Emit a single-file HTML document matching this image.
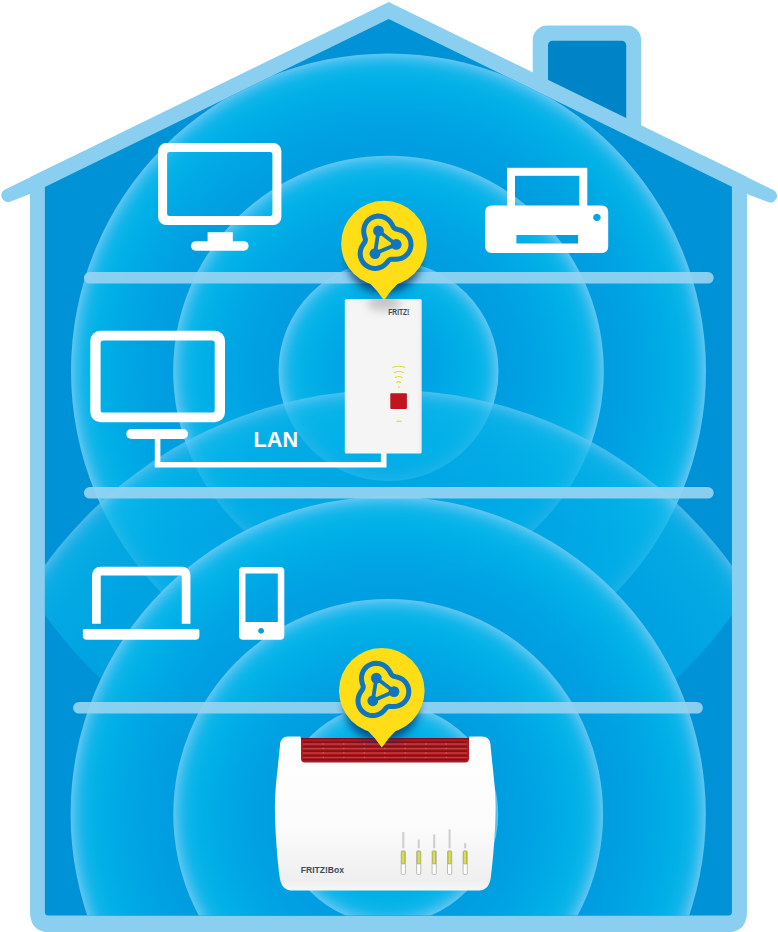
<!DOCTYPE html><html><head><meta charset="utf-8"><title>Mesh</title><style>html,body{margin:0;padding:0;background:#fff}body{width:778px;height:932px;overflow:hidden;font-family:"Liberation Sans",sans-serif}svg{display:block}</style></head><body><svg width="778" height="932" viewBox="0 0 778 932">
<defs><radialGradient id="rp1" gradientUnits="userSpaceOnUse" cx="388.5" cy="371.0" r="317.5"><stop offset="0.0000" stop-color="rgb(0,157,223)" stop-opacity="0.95"/><stop offset="0.6756" stop-color="rgb(0,158,224)" stop-opacity="0.95"/><stop offset="0.7323" stop-color="rgb(0,160,226)" stop-opacity="0.95"/><stop offset="0.8110" stop-color="rgb(0,166,228)" stop-opacity="0.95"/><stop offset="0.8740" stop-color="rgb(0,173,230)" stop-opacity="0.95"/><stop offset="0.9181" stop-color="rgb(2,178,232)" stop-opacity="0.95"/><stop offset="0.9433" stop-color="rgb(9,181,233)" stop-opacity="0.95"/><stop offset="0.9591" stop-color="rgb(20,183,235)" stop-opacity="0.95"/><stop offset="0.9717" stop-color="rgb(38,187,237)" stop-opacity="0.95"/><stop offset="0.9843" stop-color="rgb(62,192,239)" stop-opacity="0.95"/><stop offset="0.9937" stop-color="rgb(86,197,242)" stop-opacity="0.95"/><stop offset="1.0000" stop-color="rgb(98,200,243)" stop-opacity="0.95"/></radialGradient><radialGradient id="rp2" gradientUnits="userSpaceOnUse" cx="388.5" cy="371.0" r="215.3"><stop offset="0.0000" stop-color="rgb(0,157,223)" stop-opacity="0.95"/><stop offset="0.5216" stop-color="rgb(0,158,224)" stop-opacity="0.95"/><stop offset="0.6052" stop-color="rgb(0,160,226)" stop-opacity="0.95"/><stop offset="0.7213" stop-color="rgb(0,166,228)" stop-opacity="0.95"/><stop offset="0.8142" stop-color="rgb(0,173,230)" stop-opacity="0.95"/><stop offset="0.8792" stop-color="rgb(2,178,232)" stop-opacity="0.95"/><stop offset="0.9164" stop-color="rgb(9,181,233)" stop-opacity="0.95"/><stop offset="0.9396" stop-color="rgb(20,183,235)" stop-opacity="0.95"/><stop offset="0.9582" stop-color="rgb(38,187,237)" stop-opacity="0.95"/><stop offset="0.9768" stop-color="rgb(62,192,239)" stop-opacity="0.95"/><stop offset="0.9907" stop-color="rgb(86,197,242)" stop-opacity="0.95"/><stop offset="1.0000" stop-color="rgb(98,200,243)" stop-opacity="0.95"/></radialGradient><radialGradient id="rp3" gradientUnits="userSpaceOnUse" cx="388.5" cy="371.0" r="110.0"><stop offset="0.0000" stop-color="rgb(0,158,224)" stop-opacity="0.95"/><stop offset="0.0636" stop-color="rgb(0,158,224)" stop-opacity="0.95"/><stop offset="0.2273" stop-color="rgb(0,160,226)" stop-opacity="0.95"/><stop offset="0.4545" stop-color="rgb(0,166,228)" stop-opacity="0.95"/><stop offset="0.6364" stop-color="rgb(0,173,230)" stop-opacity="0.95"/><stop offset="0.7636" stop-color="rgb(2,178,232)" stop-opacity="0.95"/><stop offset="0.8364" stop-color="rgb(9,181,233)" stop-opacity="0.95"/><stop offset="0.8818" stop-color="rgb(20,183,235)" stop-opacity="0.95"/><stop offset="0.9182" stop-color="rgb(38,187,237)" stop-opacity="0.95"/><stop offset="0.9545" stop-color="rgb(62,192,239)" stop-opacity="0.95"/><stop offset="0.9818" stop-color="rgb(86,197,242)" stop-opacity="0.95"/><stop offset="1.0000" stop-color="rgb(98,200,243)" stop-opacity="0.95"/></radialGradient><radialGradient id="rt0" gradientUnits="userSpaceOnUse" cx="388.2" cy="814.0" r="424.0"><stop offset="0.0000" stop-color="rgb(0,168,229)" stop-opacity="0.72"/><stop offset="0.7406" stop-color="rgb(0,168,229)" stop-opacity="0.72"/><stop offset="0.7995" stop-color="rgb(0,170,230)" stop-opacity="0.72"/><stop offset="0.8585" stop-color="rgb(2,174,231)" stop-opacity="0.72"/><stop offset="0.9057" stop-color="rgb(4,177,232)" stop-opacity="0.72"/><stop offset="0.9387" stop-color="rgb(8,180,233)" stop-opacity="0.72"/><stop offset="0.9575" stop-color="rgb(12,182,234)" stop-opacity="0.72"/><stop offset="0.9693" stop-color="rgb(22,184,235)" stop-opacity="0.72"/><stop offset="0.9788" stop-color="rgb(38,187,237)" stop-opacity="0.72"/><stop offset="0.9882" stop-color="rgb(62,192,239)" stop-opacity="0.72"/><stop offset="0.9953" stop-color="rgb(86,197,242)" stop-opacity="0.72"/><stop offset="1.0000" stop-color="rgb(98,200,243)" stop-opacity="0.72"/></radialGradient><clipPath id="rpclip420"><circle cx="388.5" cy="371.0" r="421.3"/></clipPath><radialGradient id="rt1" gradientUnits="userSpaceOnUse" cx="388.2" cy="814.0" r="317.6"><stop offset="0.0000" stop-color="rgb(0,157,223)" stop-opacity="0.95"/><stop offset="0.6757" stop-color="rgb(0,158,224)" stop-opacity="0.95"/><stop offset="0.7324" stop-color="rgb(0,160,226)" stop-opacity="0.95"/><stop offset="0.8111" stop-color="rgb(0,166,228)" stop-opacity="0.95"/><stop offset="0.8741" stop-color="rgb(0,173,230)" stop-opacity="0.95"/><stop offset="0.9181" stop-color="rgb(2,178,232)" stop-opacity="0.95"/><stop offset="0.9433" stop-color="rgb(9,181,233)" stop-opacity="0.95"/><stop offset="0.9591" stop-color="rgb(20,183,235)" stop-opacity="0.95"/><stop offset="0.9717" stop-color="rgb(38,187,237)" stop-opacity="0.95"/><stop offset="0.9843" stop-color="rgb(62,192,239)" stop-opacity="0.95"/><stop offset="0.9937" stop-color="rgb(86,197,242)" stop-opacity="0.95"/><stop offset="1.0000" stop-color="rgb(98,200,243)" stop-opacity="0.95"/></radialGradient><radialGradient id="rt2" gradientUnits="userSpaceOnUse" cx="388.2" cy="814.0" r="214.9"><stop offset="0.0000" stop-color="rgb(0,157,223)" stop-opacity="0.95"/><stop offset="0.5207" stop-color="rgb(0,158,224)" stop-opacity="0.95"/><stop offset="0.6045" stop-color="rgb(0,160,226)" stop-opacity="0.95"/><stop offset="0.7208" stop-color="rgb(0,166,228)" stop-opacity="0.95"/><stop offset="0.8139" stop-color="rgb(0,173,230)" stop-opacity="0.95"/><stop offset="0.8790" stop-color="rgb(2,178,232)" stop-opacity="0.95"/><stop offset="0.9162" stop-color="rgb(9,181,233)" stop-opacity="0.95"/><stop offset="0.9395" stop-color="rgb(20,183,235)" stop-opacity="0.95"/><stop offset="0.9581" stop-color="rgb(38,187,237)" stop-opacity="0.95"/><stop offset="0.9767" stop-color="rgb(62,192,239)" stop-opacity="0.95"/><stop offset="0.9907" stop-color="rgb(86,197,242)" stop-opacity="0.95"/><stop offset="1.0000" stop-color="rgb(98,200,243)" stop-opacity="0.95"/></radialGradient><radialGradient id="rt3" gradientUnits="userSpaceOnUse" cx="388.2" cy="814.0" r="110.0"><stop offset="0.0000" stop-color="rgb(0,158,224)" stop-opacity="0.95"/><stop offset="0.0636" stop-color="rgb(0,158,224)" stop-opacity="0.95"/><stop offset="0.2273" stop-color="rgb(0,160,226)" stop-opacity="0.95"/><stop offset="0.4545" stop-color="rgb(0,166,228)" stop-opacity="0.95"/><stop offset="0.6364" stop-color="rgb(0,173,230)" stop-opacity="0.95"/><stop offset="0.7636" stop-color="rgb(2,178,232)" stop-opacity="0.95"/><stop offset="0.8364" stop-color="rgb(9,181,233)" stop-opacity="0.95"/><stop offset="0.8818" stop-color="rgb(20,183,235)" stop-opacity="0.95"/><stop offset="0.9182" stop-color="rgb(38,187,237)" stop-opacity="0.95"/><stop offset="0.9545" stop-color="rgb(62,192,239)" stop-opacity="0.95"/><stop offset="0.9818" stop-color="rgb(86,197,242)" stop-opacity="0.95"/><stop offset="1.0000" stop-color="rgb(98,200,243)" stop-opacity="0.95"/></radialGradient><clipPath id="inside"><path d="M388.7,18.9 L731.9,186.72 L731.9,912.0 Q731.9,915.6 728.3,915.6 L48.5,915.6 Q44.9,915.6 44.9,912.0 L44.9,187.02Z"/></clipPath><filter id="blur5" x="-50%" y="-50%" width="200%" height="200%"><feGaussianBlur stdDeviation="4"/></filter><filter id="blur3" x="-50%" y="-50%" width="200%" height="200%"><feGaussianBlur stdDeviation="3"/></filter><linearGradient id="rtbody" x1="0" y1="0" x2="0" y2="1"><stop offset="0" stop-color="#ffffff"/><stop offset="0.6" stop-color="#fbfbfb"/><stop offset="0.93" stop-color="#efefef"/><stop offset="1" stop-color="#f7f7f7"/></linearGradient><linearGradient id="rpbody" x1="0" y1="0" x2="1" y2="0"><stop offset="0" stop-color="#ececec"/><stop offset="0.06" stop-color="#f5f5f5"/><stop offset="0.94" stop-color="#f5f5f5"/><stop offset="1" stop-color="#ececec"/></linearGradient></defs>
<rect width="778" height="932" fill="#fff"/>
<rect x="532.7" y="25.4" width="108.5" height="125" rx="14.5" fill="#8acff0"/>
<rect x="548" y="40.8" width="78.2" height="100" rx="4.5" fill="#0084c8"/>
<path d="M388.7,1.9 L747.0,177.11 L747.0,911.5 Q747.0,932.5 726.0,932.5 L51.0,932.5 Q30.0,932.5 30.0,911.5 L30.0,177.30Z" fill="#8acff0"/>
<path d="M7.90,195.46 L72.90,163.67" stroke="#8acff0" stroke-width="13.2" stroke-linecap="round"/>
<path d="M770.40,195.90 L703.10,162.99" stroke="#8acff0" stroke-width="13.2" stroke-linecap="round"/>
<path d="M10.80,201.39 L31.0,190.00 L31.0,193.9 L30.0,193.9Z" fill="#8acff0"/>
<path d="M767.50,201.83 L746.0,189.80 L746.0,193.9 L747.0,193.9Z" fill="#8acff0"/>
<path d="M388.7,18.9 L731.9,186.72 L731.9,912.0 Q731.9,915.6 728.3,915.6 L48.5,915.6 Q44.9,915.6 44.9,912.0 L44.9,187.02Z" fill="#0092d6"/>
<g clip-path="url(#inside)"><circle cx="388.5" cy="371.0" r="317.5" fill="url(#rp1)"/><circle cx="388.5" cy="371.0" r="215.3" fill="url(#rp2)"/><circle cx="388.5" cy="371.0" r="110.0" fill="url(#rp3)"/><g clip-path="url(#rpclip420)"><circle cx="388.2" cy="814.0" r="424.0" fill="url(#rt0)"/></g><circle cx="388.2" cy="814.0" r="317.6" fill="url(#rt1)"/><circle cx="388.2" cy="814.0" r="214.9" fill="url(#rt2)"/><circle cx="388.2" cy="814.0" r="110.0" fill="url(#rt3)"/></g>
<rect x="83.9" y="272.0" width="629.8000000000001" height="11.6" rx="5.8" fill="rgba(147,211,241,0.93)"/>
<rect x="83.9" y="487.0" width="629.8000000000001" height="11.6" rx="5.8" fill="rgba(147,211,241,0.93)"/>
<rect x="73.1" y="702.0" width="629.8" height="11.6" rx="5.8" fill="rgba(147,211,241,0.93)"/>
<path fill-rule="evenodd" fill="#fff" d="M166.1,143.1 H273.4 A8,8 0 0 1 281.4,151.1 V217 A8,8 0 0 1 273.4,225 H166.1 A8,8 0 0 1 158.1,217 V151.1 A8,8 0 0 1 166.1,143.1Z M169.29999999999998,152.1 H270.2 A2.2,2.2 0 0 1 272.4,154.29999999999998 V213.8 A2.2,2.2 0 0 1 270.2,216 H169.29999999999998 A2.2,2.2 0 0 1 167.1,213.8 V154.29999999999998 A2.2,2.2 0 0 1 169.29999999999998,152.1Z"/><rect x="207.6" y="232.2" width="25.2" height="10" fill="#fff"/><rect x="191" y="241.2" width="57.6" height="9.5" rx="4.75" fill="#fff"/><path fill-rule="evenodd" fill="#fff" d="M100.3,330.7 H215 A10,10 0 0 1 225,340.7 V412.2 A10,10 0 0 1 215,422.2 H100.3 A10,10 0 0 1 90.3,412.2 V340.7 A10,10 0 0 1 100.3,330.7Z M103.19999999999999,340.6 H212.1 A2.6,2.6 0 0 1 214.7,343.20000000000005 V409.9 A2.6,2.6 0 0 1 212.1,412.5 H103.19999999999999 A2.6,2.6 0 0 1 100.6,409.9 V343.20000000000005 A2.6,2.6 0 0 1 103.19999999999999,340.6Z"/><rect x="126.3" y="429" width="61.7" height="9.9" rx="4.95" fill="#fff"/><path d="M157.6,436 V464.7 H383.7 V452" fill="none" stroke="#fff" stroke-width="5.6"/><text x="253.6" y="446.6" font-family="Liberation Sans, sans-serif" font-weight="700" font-size="21.6" fill="#fff">LAN</text><path d="M96.4,623.7 V575.4 Q96.4,571.2 100.6,571.2 H182 Q186.1,571.2 186.1,575.4 V623.7" fill="none" stroke="#fff" stroke-width="8.7"/><path d="M84.4,629.1 H197.9 Q199.4,629.1 199.4,630.6 V635.8 Q199.4,639.8 195.4,639.8 H86.9 Q82.9,639.8 82.9,635.8 V630.6 Q82.9,629.1 84.4,629.1Z" fill="#fff"/><path fill-rule="evenodd" fill="#fff" d="M243,566.9 H280.3 Q284.3,566.9 284.3,570.9 V635.8 Q284.3,639.8 280.3,639.8 H243 Q239,639.8 239,635.8 V570.9 Q239,566.9 243,566.9Z M245.5,573.4 V622 H277.8 V573.4Z M261.1,628 a2.9,2.9 0 1,0 0.01,0Z"/><rect x="511" y="171.8" width="72.3" height="40" fill="none" stroke="#fff" stroke-width="8"/><path fill-rule="evenodd" fill="#fff" d="M491.7,205.5 H601.7 Q608.2,205.5 608.2,212 V246.4 Q608.2,252.9 601.7,252.9 H491.7 Q485.2,252.9 485.2,246.4 V212 Q485.2,205.5 491.7,205.5Z M516.4,235.1 V243.5 H578 V235.1Z M596.9,213.7 a3.7,3.7 0 1,0 0.01,0Z"/>
<clipPath id="rpclip"><rect x="344.8" y="299" width="76.9" height="154.6"/></clipPath>
<rect x="344.8" y="299" width="76.9" height="154.6" rx="1.5" fill="url(#rpbody)"/><ellipse cx="384" cy="303" rx="17" ry="8" fill="#555" opacity="0.28" filter="url(#blur5)" clip-path="url(#rpclip)"/><text x="388.3" y="315.4" font-family="Liberation Sans, sans-serif" font-weight="700" font-size="8.6" fill="#3b4a5c" textLength="21" lengthAdjust="spacingAndGlyphs">FRITZ!</text><path d="M392.3,367.5 Q398.8,365.0 405.3,367.5" fill="none" stroke="#e3d64a" stroke-width="1.1"/><path d="M393.8,372.7 Q398.8,370.2 403.8,372.7" fill="none" stroke="#e3d64a" stroke-width="1.1"/><path d="M395.05,377.79999999999995 Q398.8,375.29999999999995 402.55,377.79999999999995" fill="none" stroke="#e3d64a" stroke-width="1.1"/><path d="M396.45,382.9 Q398.8,380.4 401.15000000000003,382.9" fill="none" stroke="#e3d64a" stroke-width="1.1"/><rect x="398" y="386.3" width="1.6" height="1.4" fill="#e3d64a"/><rect x="390.3" y="393.2" width="16.6" height="15.9" rx="1" fill="#c2141d"/><rect x="396.5" y="420.7" width="5.1" height="1.2" fill="#e3d64a"/>
<path d="M288,736.4 H300.6 V738 H469.4 V736.4 H482 Q489.6,736.4 490.4,744 C492.5,768 495.6,788 495.6,806 C495.6,830 493,860 491,876 Q489.5,890.4 479,890.4 H291.5 Q281,890.4 279.5,876 C277.5,860 274.9,830 274.9,806 C274.9,788 278,768 280.1,744 Q280.9,736.4 288,736.4Z" fill="url(#rtbody)"/><path d="M301,738 H469 V758.4 Q469,762.4 465,762.4 H305 Q301,762.4 301,758.4Z" fill="#b01a20"/><rect x="301" y="738" width="168" height="1.3" fill="#7d1016"/><rect x="303" y="741.3000000000001" width="164" height="1.8" fill="#84101a"/><rect x="303" y="743.4000000000001" width="164" height="1.3" fill="#cd3a3e"/><rect x="322.6" y="743.3000000000001" width="1.4" height="1.3" fill="#e27f7f" opacity="0.5"/><rect x="343.1" y="743.3000000000001" width="1.4" height="1.3" fill="#e27f7f" opacity="0.5"/><rect x="363.6" y="743.3000000000001" width="1.4" height="1.3" fill="#e27f7f" opacity="0.5"/><rect x="384.1" y="743.3000000000001" width="1.4" height="1.3" fill="#e27f7f" opacity="0.5"/><rect x="404.6" y="743.3000000000001" width="1.4" height="1.3" fill="#e27f7f" opacity="0.5"/><rect x="425.1" y="743.3000000000001" width="1.4" height="1.3" fill="#e27f7f" opacity="0.5"/><rect x="445.6" y="743.3000000000001" width="1.4" height="1.3" fill="#e27f7f" opacity="0.5"/><rect x="303" y="745.8000000000001" width="164" height="1.8" fill="#84101a"/><rect x="303" y="747.9000000000001" width="164" height="1.3" fill="#cd3a3e"/><rect x="322.6" y="747.8000000000001" width="1.4" height="1.3" fill="#e27f7f" opacity="0.5"/><rect x="343.1" y="747.8000000000001" width="1.4" height="1.3" fill="#e27f7f" opacity="0.5"/><rect x="363.6" y="747.8000000000001" width="1.4" height="1.3" fill="#e27f7f" opacity="0.5"/><rect x="384.1" y="747.8000000000001" width="1.4" height="1.3" fill="#e27f7f" opacity="0.5"/><rect x="404.6" y="747.8000000000001" width="1.4" height="1.3" fill="#e27f7f" opacity="0.5"/><rect x="425.1" y="747.8000000000001" width="1.4" height="1.3" fill="#e27f7f" opacity="0.5"/><rect x="445.6" y="747.8000000000001" width="1.4" height="1.3" fill="#e27f7f" opacity="0.5"/><rect x="303" y="750.3000000000001" width="164" height="1.8" fill="#84101a"/><rect x="303" y="752.4000000000001" width="164" height="1.3" fill="#cd3a3e"/><rect x="322.6" y="752.3000000000001" width="1.4" height="1.3" fill="#e27f7f" opacity="0.5"/><rect x="343.1" y="752.3000000000001" width="1.4" height="1.3" fill="#e27f7f" opacity="0.5"/><rect x="363.6" y="752.3000000000001" width="1.4" height="1.3" fill="#e27f7f" opacity="0.5"/><rect x="384.1" y="752.3000000000001" width="1.4" height="1.3" fill="#e27f7f" opacity="0.5"/><rect x="404.6" y="752.3000000000001" width="1.4" height="1.3" fill="#e27f7f" opacity="0.5"/><rect x="425.1" y="752.3000000000001" width="1.4" height="1.3" fill="#e27f7f" opacity="0.5"/><rect x="445.6" y="752.3000000000001" width="1.4" height="1.3" fill="#e27f7f" opacity="0.5"/><rect x="303" y="754.8000000000001" width="164" height="1.8" fill="#84101a"/><rect x="303" y="756.9000000000001" width="164" height="1.3" fill="#cd3a3e"/><rect x="322.6" y="756.8000000000001" width="1.4" height="1.3" fill="#e27f7f" opacity="0.5"/><rect x="343.1" y="756.8000000000001" width="1.4" height="1.3" fill="#e27f7f" opacity="0.5"/><rect x="363.6" y="756.8000000000001" width="1.4" height="1.3" fill="#e27f7f" opacity="0.5"/><rect x="384.1" y="756.8000000000001" width="1.4" height="1.3" fill="#e27f7f" opacity="0.5"/><rect x="404.6" y="756.8000000000001" width="1.4" height="1.3" fill="#e27f7f" opacity="0.5"/><rect x="425.1" y="756.8000000000001" width="1.4" height="1.3" fill="#e27f7f" opacity="0.5"/><rect x="445.6" y="756.8000000000001" width="1.4" height="1.3" fill="#e27f7f" opacity="0.5"/><rect x="303" y="758.7" width="164" height="1.8" fill="#84101a"/><text x="300.8" y="873.2" font-family="Liberation Sans, sans-serif" font-weight="700" font-size="9.2" fill="#3b4a5c" textLength="43.2" lengthAdjust="spacingAndGlyphs">FRITZ!Box</text><rect x="401.2" y="850.8" width="4.2" height="23.6" rx="0.9" fill="#fcfcfc" stroke="#a4a4a4" stroke-width="0.7"/><rect x="401.40000000000003" y="851.2" width="3.8" height="13" rx="0.6" fill="#a9ad3e"/><rect x="402.2" y="851.8" width="2.2" height="11.8" fill="#dfe050"/><rect x="402.3" y="832.0999999999999" width="2.0" height="16.2" fill="#8a8a8a" opacity="0.38"/><rect x="416.59999999999997" y="850.8" width="4.2" height="23.6" rx="0.9" fill="#fcfcfc" stroke="#a4a4a4" stroke-width="0.7"/><rect x="416.8" y="851.2" width="3.8" height="13" rx="0.6" fill="#a9ad3e"/><rect x="417.59999999999997" y="851.8" width="2.2" height="11.8" fill="#dfe050"/><rect x="417.7" y="839.6999999999999" width="2.0" height="8.6" fill="#8a8a8a" opacity="0.38"/><rect x="432.09999999999997" y="850.8" width="4.2" height="23.6" rx="0.9" fill="#fcfcfc" stroke="#a4a4a4" stroke-width="0.7"/><rect x="432.3" y="851.2" width="3.8" height="13" rx="0.6" fill="#a9ad3e"/><rect x="433.09999999999997" y="851.8" width="2.2" height="11.8" fill="#dfe050"/><rect x="433.2" y="834.5" width="2.0" height="13.8" fill="#8a8a8a" opacity="0.38"/><rect x="447.5" y="850.8" width="4.2" height="23.6" rx="0.9" fill="#fcfcfc" stroke="#a4a4a4" stroke-width="0.7"/><rect x="447.70000000000005" y="851.2" width="3.8" height="13" rx="0.6" fill="#a9ad3e"/><rect x="448.5" y="851.8" width="2.2" height="11.8" fill="#dfe050"/><rect x="448.6" y="829.3" width="2.0" height="19" fill="#8a8a8a" opacity="0.38"/><rect x="463.09999999999997" y="850.8" width="4.2" height="23.6" rx="0.9" fill="#fcfcfc" stroke="#a4a4a4" stroke-width="0.7"/><rect x="463.3" y="851.2" width="3.8" height="13" rx="0.6" fill="#a9ad3e"/><rect x="464.09999999999997" y="851.8" width="2.2" height="11.8" fill="#dfe050"/><rect x="464.2" y="843.0999999999999" width="2.0" height="5.2" fill="#8a8a8a" opacity="0.38"/>
<g transform="translate(384.0,243.5)"><ellipse cx="0" cy="17" rx="37" ry="33" fill="#00356f" opacity="0.8" filter="url(#blur5)"/><circle r="42.8" fill="#ffde17"/><path d="M-14.73,39.21 Q-6.20,47.21 -0.6,56.1 Q0,56.900000000000006 0.6,56.1 Q6.20,47.21 14.73,39.21Z" fill="#ffde17"/><path d="M-8.89,24.90 L-6.70,24.72 L-4.82,24.30 L-3.10,23.68 L-1.55,22.90 L-0.17,22.00 L1.18,20.90 L2.30,19.79 L3.42,18.50 L4.50,17.22 L5.70,16.15 L7.60,15.63 L9.80,15.71 L12.10,15.76 L14.30,15.57 L16.20,15.16 L18.00,14.52 L19.50,13.78 L20.90,12.87 L22.21,11.80 L23.38,10.60 L24.39,9.30 L25.29,7.80 L26.00,6.25 L26.58,4.40 L26.91,2.50 L26.99,0.40 L26.75,-1.80 L26.30,-3.60 L25.64,-5.30 L24.80,-6.87 L23.87,-8.20 L22.73,-9.50 L21.52,-10.60 L20.20,-11.56 L18.70,-12.42 L17.10,-13.11 L15.30,-13.68 L13.40,-14.13 L11.60,-14.63 L10.10,-15.57 L9.14,-16.90 L8.33,-18.40 L7.47,-19.90 L6.52,-21.30 L5.43,-22.60 L4.30,-23.70 L3.00,-24.72 L1.50,-25.64 L-0.10,-26.38 L-1.80,-26.93 L-3.80,-27.30 L-5.90,-27.39 L-8.10,-27.17 L-10.00,-26.70 L-11.60,-26.08 L-13.20,-25.24 L-14.56,-24.30 L-15.80,-23.23 L-16.93,-22.00 L-17.90,-20.68 L-18.80,-19.10 L-19.47,-17.50 L-19.97,-15.70 L-20.27,-13.60 L-20.28,-11.50 L-20.00,-9.40 L-19.53,-7.50 L-18.99,-5.80 L-18.53,-3.80 L-18.92,-1.90 L-19.80,-0.48 L-20.80,0.95 L-21.70,2.39 L-22.47,3.90 L-23.11,5.60 L-23.57,7.50 L-23.80,9.70 L-23.70,11.80 L-23.36,13.70 L-22.78,15.50 L-22.04,17.10 L-21.19,18.50 L-20.10,19.89 L-19.00,21.01 L-17.66,22.10 L-16.25,23.00 L-14.70,23.76 L-12.90,24.38 L-11.00,24.76Z" fill="none" stroke="#0f75bc" stroke-width="5.0" stroke-linejoin="round"/><path d="M-5.5,-12.6 L12.2,0.9 L-9.0,10.1Z" fill="none" stroke="#0f75bc" stroke-width="3.8" stroke-linejoin="round"/><circle cx="-5.5" cy="-12.6" r="5.4" fill="#0f75bc"/><circle cx="12.2" cy="0.9" r="5.4" fill="#0f75bc"/><circle cx="-9.0" cy="10.1" r="5.4" fill="#0f75bc"/></g>
<g transform="translate(381.8,690.7)"><ellipse cx="0" cy="17" rx="37" ry="33" fill="#00356f" opacity="0.8" filter="url(#blur5)"/><circle r="42.8" fill="#ffde17"/><path d="M-14.73,39.21 Q-6.20,47.21 -0.6,56.1 Q0,56.900000000000006 0.6,56.1 Q6.20,47.21 14.73,39.21Z" fill="#ffde17"/><path d="M-8.89,24.90 L-6.70,24.72 L-4.82,24.30 L-3.10,23.68 L-1.55,22.90 L-0.17,22.00 L1.18,20.90 L2.30,19.79 L3.42,18.50 L4.50,17.22 L5.70,16.15 L7.60,15.63 L9.80,15.71 L12.10,15.76 L14.30,15.57 L16.20,15.16 L18.00,14.52 L19.50,13.78 L20.90,12.87 L22.21,11.80 L23.38,10.60 L24.39,9.30 L25.29,7.80 L26.00,6.25 L26.58,4.40 L26.91,2.50 L26.99,0.40 L26.75,-1.80 L26.30,-3.60 L25.64,-5.30 L24.80,-6.87 L23.87,-8.20 L22.73,-9.50 L21.52,-10.60 L20.20,-11.56 L18.70,-12.42 L17.10,-13.11 L15.30,-13.68 L13.40,-14.13 L11.60,-14.63 L10.10,-15.57 L9.14,-16.90 L8.33,-18.40 L7.47,-19.90 L6.52,-21.30 L5.43,-22.60 L4.30,-23.70 L3.00,-24.72 L1.50,-25.64 L-0.10,-26.38 L-1.80,-26.93 L-3.80,-27.30 L-5.90,-27.39 L-8.10,-27.17 L-10.00,-26.70 L-11.60,-26.08 L-13.20,-25.24 L-14.56,-24.30 L-15.80,-23.23 L-16.93,-22.00 L-17.90,-20.68 L-18.80,-19.10 L-19.47,-17.50 L-19.97,-15.70 L-20.27,-13.60 L-20.28,-11.50 L-20.00,-9.40 L-19.53,-7.50 L-18.99,-5.80 L-18.53,-3.80 L-18.92,-1.90 L-19.80,-0.48 L-20.80,0.95 L-21.70,2.39 L-22.47,3.90 L-23.11,5.60 L-23.57,7.50 L-23.80,9.70 L-23.70,11.80 L-23.36,13.70 L-22.78,15.50 L-22.04,17.10 L-21.19,18.50 L-20.10,19.89 L-19.00,21.01 L-17.66,22.10 L-16.25,23.00 L-14.70,23.76 L-12.90,24.38 L-11.00,24.76Z" fill="none" stroke="#0f75bc" stroke-width="5.0" stroke-linejoin="round"/><path d="M-5.5,-12.6 L12.2,0.9 L-9.0,10.1Z" fill="none" stroke="#0f75bc" stroke-width="3.8" stroke-linejoin="round"/><circle cx="-5.5" cy="-12.6" r="5.4" fill="#0f75bc"/><circle cx="12.2" cy="0.9" r="5.4" fill="#0f75bc"/><circle cx="-9.0" cy="10.1" r="5.4" fill="#0f75bc"/></g>
</svg></body></html>
